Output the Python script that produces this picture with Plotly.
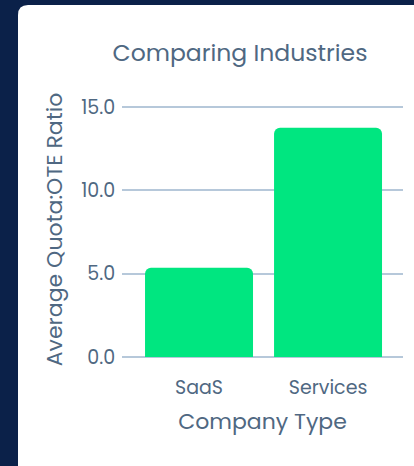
import plotly.graph_objects as go

categories = ["SaaS", "Services"]
values = [5.35, 13.75]
y_ticks = [0, 5, 10, 15]
y_tick_labels = ["0.0", "5.0", "10.0", "15.0"]

W, H = 414, 466
L, R, T, B = 122, 11, 102, 109
pw, ph = W - L - R, H - T - B

def px_x(p):
    return (p - L) / pw

def px_y(p):
    return (H - B - p) / ph

text_color = "#4f6882"
font_family = "Poppins, Inter, Lato, sans-serif"

fig = go.Figure(
    go.Bar(
        x=categories,
        y=values,
        marker=dict(color="#00e680", line=dict(width=0)),
        width=0.837,
        hoverinfo="skip",
    )
)

# card shape with rounded corner
x0, y0 = px_x(18), px_y(5)
x1, y1 = px_x(500), px_y(520)
rx, ry = 10 / pw, 10 / ph
path = (
    f"M {x0},{y1} L {x0},{y0 - ry} Q {x0},{y0} {x0 + rx},{y0} "
    f"L {x1},{y0} L {x1},{y1} Z"
)

fig.update_layout(
    width=W,
    height=H,
    margin=dict(l=L, r=R, t=T, b=B),
    paper_bgcolor="#0b2149",
    plot_bgcolor="rgba(0,0,0,0)",
    barcornerradius=6,
    showlegend=False,
    font=dict(family=font_family, color=text_color),
    title=dict(
        text="Comparing Industries",
        x=240 / W,
        xanchor="center",
        xref="container",
        y=1 - 53 / H,
        yref="container",
        yanchor="middle",
        font=dict(size=23.5, color=text_color, family=font_family),
    ),
    shapes=[
        dict(
            type="path",
            path=path,
            xref="paper",
            yref="paper",
            fillcolor="white",
            line=dict(width=0),
            layer="below",
        )
    ],
    xaxis=dict(
        range=[-0.597, 1.581],
        showgrid=False,
        zeroline=False,
        showline=False,
        ticks="outside",
        ticklen=13,
        tickcolor="rgba(0,0,0,0)",
        tickfont=dict(size=19, color=text_color),
        title=dict(text="Company Type", font=dict(size=22, color=text_color), standoff=13),
    ),
    yaxis=dict(
        range=[0, 15.3],
        tickvals=y_ticks,
        ticktext=y_tick_labels,
        showgrid=True,
        gridcolor="#b6c8da",
        gridwidth=1.5,
        zeroline=True,
        zerolinecolor="#b6c8da",
        zerolinewidth=1.5,
        showline=False,
        ticks="outside",
        ticklen=2,
        tickcolor="rgba(0,0,0,0)",
        tickfont=dict(size=19, color=text_color),
        title=dict(text="Average Quota:OTE Ratio", font=dict(size=22, color=text_color), standoff=12),
    ),
)

fig.write_html(
    "out.html",
    config={"displayModeBar": False},
    post_script="document.body.style.margin='0';",
)
